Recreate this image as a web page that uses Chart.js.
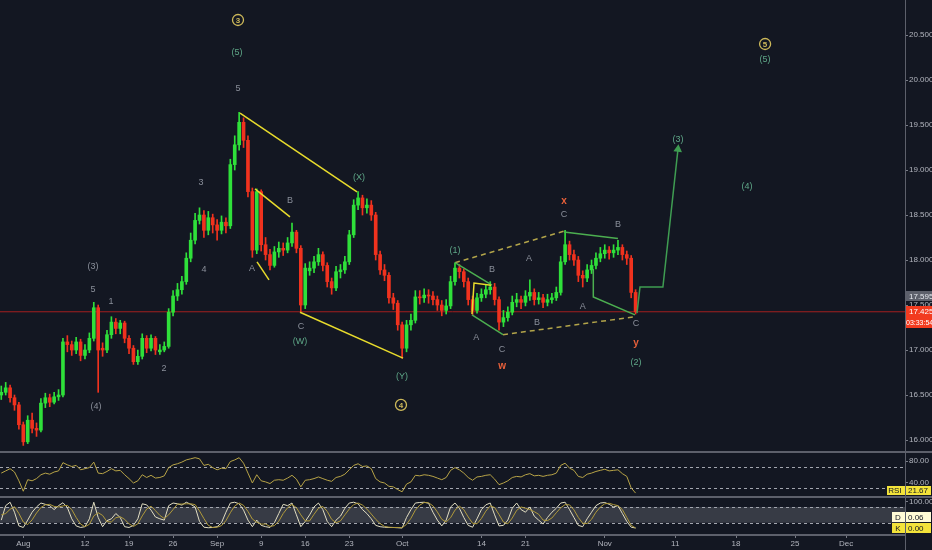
<!DOCTYPE html>
<html>
<head>
<meta charset="utf-8">
<title>XAG/USD Elliott wave chart</title>
<script src="https://cdn.jsdelivr.net/npm/chart.js@4.4.1/dist/chart.umd.min.js"></script>
<style>
html,body{margin:0;padding:0;background:#131722;overflow:hidden;}
#wrap{position:relative;width:932px;height:550px;background:#131722;}
#wrap canvas{position:absolute;left:0;}
.hsep{position:absolute;left:0;width:932px;height:2px;background:#5d606b;}
.vsep{position:absolute;left:905px;top:0;width:1px;height:550px;background:#5d606b;}
</style>
</head>
<body>
<div id="wrap">
  <canvas id="priceChart" width="932" height="451" style="top:0px"></canvas>
  <div class="hsep" style="top:451px"></div>
  <canvas id="rsiChart" width="932" height="43" style="top:453px"></canvas>
  <div class="hsep" style="top:496px"></div>
  <canvas id="stochChart" width="932" height="52" style="top:498px"></canvas>
  <div class="vsep"></div>
</div>
<script>
// ---------- DATA ----------
// time axis: trading-day index, day 0 = Aug 1; two bars per trading day
const startDay = -2.5;
const barStep = 0.5;

const opens = [
16.50,16.53,16.58,16.47,16.39,16.17,15.98,16.22,16.13,16.11,
16.41,16.47,16.42,16.48,16.50,17.09,17.06,17.00,17.09,16.94,
17.00,17.13,17.47,17.02,17.00,17.17,17.31,17.24,17.30,17.13,
17.02,16.87,16.93,17.13,17.02,17.13,16.98,17.00,17.04,17.42,
17.60,17.67,17.76,18.02,18.22,18.44,18.50,18.33,18.47,18.39,
18.33,18.42,18.38,19.06,19.28,19.53,19.33,18.76,18.11,18.76,
18.17,18.06,17.94,18.09,18.13,18.11,18.19,18.31,18.13,17.50,
17.88,17.91,17.98,18.06,17.94,17.76,17.69,17.87,17.89,17.98,
18.28,18.61,18.69,18.58,18.61,18.50,18.06,17.89,17.83,17.58,
17.52,17.28,17.02,17.28,17.33,17.59,17.58,17.61,17.60,17.56,
17.50,17.44,17.49,17.76,17.91,17.87,17.76,17.56,17.44,17.58,
17.62,17.67,17.70,17.56,17.31,17.36,17.42,17.53,17.56,17.53,
17.60,17.64,17.56,17.58,17.53,17.56,17.58,17.64,17.98,18.17,
18.06,18.00,17.83,17.80,17.89,17.94,18.02,18.07,18.11,18.08,
18.11,18.14,18.06,18.02,17.64];
const highs = [
16.60,16.64,16.61,16.50,16.42,16.20,16.27,16.30,16.19,16.46,
16.52,16.51,16.53,16.56,17.13,17.16,17.10,17.14,17.12,17.06,
17.19,17.53,17.50,17.08,17.22,17.37,17.35,17.33,17.32,17.16,
17.05,17.00,17.18,17.16,17.17,17.15,17.06,17.09,17.46,17.66,
17.74,17.82,18.08,18.30,18.52,18.58,18.55,18.54,18.51,18.45,
18.49,18.47,19.12,19.38,19.64,19.58,19.38,18.80,18.79,18.78,
18.25,18.12,18.15,18.20,18.19,18.25,18.41,18.33,18.16,17.96,
17.98,18.04,18.13,18.09,17.97,17.80,17.93,17.95,18.04,18.33,
18.67,18.76,18.72,18.68,18.66,18.53,18.10,17.95,17.86,17.63,
17.55,17.31,17.33,17.40,17.66,17.66,17.68,17.67,17.65,17.60,
17.55,17.56,17.82,17.97,17.95,17.90,17.80,17.60,17.63,17.68,
17.73,17.76,17.74,17.59,17.44,17.48,17.60,17.63,17.60,17.66,
17.78,17.68,17.64,17.62,17.62,17.63,17.70,18.04,18.33,18.21,
18.11,18.04,17.88,17.95,18.00,18.08,18.14,18.17,18.15,18.17,
18.22,18.17,18.10,18.05,17.67];
const lows = [
16.45,16.50,16.42,16.33,16.12,15.94,15.96,16.08,16.04,16.09,
16.36,16.37,16.40,16.44,16.48,16.98,16.94,16.96,16.88,16.90,
16.97,17.10,16.53,16.93,16.97,17.13,17.18,17.18,17.08,16.96,
16.84,16.84,16.90,16.97,16.99,16.95,16.95,16.98,17.02,17.38,
17.55,17.62,17.73,17.98,18.18,18.40,18.25,18.28,18.30,18.22,
18.29,18.30,18.35,19.00,19.22,19.25,18.70,18.03,18.07,18.10,
18.00,17.89,17.92,18.03,18.05,18.08,18.15,18.08,17.42,17.46,
17.83,17.86,17.94,17.88,17.70,17.62,17.66,17.80,17.85,17.95,
18.25,18.56,18.50,18.52,18.44,18.00,17.84,17.77,17.52,17.45,
17.22,16.91,16.98,17.22,17.30,17.51,17.53,17.52,17.50,17.44,
17.38,17.40,17.46,17.72,17.80,17.70,17.50,17.39,17.41,17.54,
17.58,17.62,17.50,17.22,17.26,17.32,17.39,17.48,17.46,17.49,
17.55,17.50,17.51,17.47,17.49,17.52,17.55,17.61,17.95,18.00,
17.94,17.76,17.70,17.76,17.85,17.90,17.98,18.02,18.01,18.03,
18.06,18.00,17.95,17.58,17.40];
const closes = [
16.53,16.58,16.47,16.39,16.17,15.98,16.22,16.13,16.11,16.41,
16.47,16.42,16.48,16.50,17.09,17.06,17.00,17.09,16.94,17.00,
17.13,17.47,17.00,17.00,17.17,17.31,17.24,17.30,17.13,17.02,
16.87,16.93,17.13,17.02,17.13,17.00,17.00,17.04,17.42,17.60,
17.67,17.76,18.02,18.22,18.44,18.50,18.33,18.47,18.39,18.33,
18.42,18.38,19.06,19.28,19.53,19.33,18.76,18.11,18.76,18.17,
18.06,17.94,18.09,18.13,18.11,18.19,18.31,18.13,17.50,17.91,
17.91,17.98,18.06,17.94,17.76,17.69,17.87,17.89,17.98,18.28,
18.61,18.69,18.58,18.61,18.50,18.06,17.89,17.83,17.58,17.52,
17.28,17.02,17.28,17.33,17.59,17.58,17.61,17.60,17.56,17.50,
17.44,17.49,17.76,17.91,17.87,17.76,17.56,17.44,17.58,17.62,
17.67,17.70,17.56,17.31,17.36,17.42,17.53,17.56,17.53,17.60,
17.64,17.56,17.58,17.53,17.56,17.58,17.64,17.98,18.17,18.06,
18.00,17.83,17.80,17.89,17.94,18.02,18.07,18.11,18.08,18.11,
18.14,18.06,18.02,17.64,17.425];

const rsiValues = [
58,62,66,60,44,25,46,44,48,55,
58,56,60,62,77,73,70,72,64,66,
68,78,58,57,61,66,62,63,55,48,
40,44,55,50,54,49,50,53,68,73,
75,78,82,84,86,84,72,74,68,64,
67,66,79,82,86,76,58,40,55,44,
42,39,45,46,45,49,54,47,33,45,
46,48,51,48,45,43,50,52,56,64,
72,75,70,71,66,48,42,40,34,33,
28,24,38,42,54,53,55,54,52,49,
46,50,63,68,64,58,50,45,51,52,
54,55,47,37,40,44,50,52,51,55,
57,53,54,52,54,55,58,72,76,67,
63,52,50,56,58,61,63,65,62,63,
64,57,52,31,21.67];
const stochK = [
30,85,98,60,8,2,30,60,80,95,
90,85,70,85,96,78,35,8,2,5,
35,98,40,5,28,35,55,40,5,2,
10,35,92,88,68,42,35,30,85,95,
92,87,98,90,80,25,3,1,2,5,
20,60,95,98,92,68,30,5,30,10,
5,2,20,55,90,85,95,50,5,25,
50,80,95,70,25,5,30,45,75,95,
98,92,70,55,35,10,5,3,2,2,
1,0,40,70,95,97,98,94,60,30,
8,30,80,95,75,40,10,3,35,70,
88,95,50,8,10,30,75,95,70,60,
80,45,30,15,40,60,75,95,98,70,
40,10,5,35,60,85,95,97,90,80,
85,55,25,3,0];
const stochD = [
50,55,71,81,55,23,13,31,57,78,
88,90,82,80,84,86,70,40,15,5,
14,46,58,48,24,23,39,43,33,16,
6,16,46,72,83,66,48,36,50,70,
91,91,92,92,89,65,36,10,2,3,
9,28,58,84,95,86,63,34,22,15,
15,6,9,26,55,77,90,77,50,27,
27,52,75,82,63,33,20,27,50,72,
89,95,87,72,53,33,17,6,3,2,
2,1,14,37,68,87,97,96,84,61,
33,23,39,68,83,70,42,18,16,36,
64,84,78,51,23,16,38,67,80,75,
70,62,52,30,28,38,58,77,89,88,
69,40,18,17,33,60,80,92,94,89,
85,70,40,10,0.06];

// axis ticks
const priceTicks = [16.0,16.5,17.0,17.5,18.0,18.5,19.0,19.5,20.0,20.5];
const rsiTicks = [40,80];
const stochTicks = [0,50,100];
const rsiBands = [70,30];
const stochBands = [80,20];
const xTickDays = [0,7,12,17,22,27,32,37,43,52,57,66,74,80.9,87.6,93.4];
const xTickLabels = ['Aug','12','19','26','Sep','9','16','23','Oct','14','21','Nov','11','18','25','Dec'];

// visible ranges
const viewDays = [-2.645, 100.08];
const priceRange = [15.878, 20.889];
const rsiRange = [16.36, 94.55];
const stochRange = [-26.6, 114.07];

// price badges
const refPrice = 17.595;
const countdown = '03:33:54';

// wave drawings: [day, price] points
const yellowWaves = [
  [[24.6,19.633],[37.88,18.756]],
  [[31.41,17.42],[43.1,16.91]],
  [[26.3,18.79],[30.27,18.48]],
  [[26.53,17.98],[27.89,17.78]],
  [[50.93,17.40],[51.16,17.744],[53.09,17.72]]
];
const greenWaves = [
  [[49.0,17.97],[53.2,17.72]],
  [[50.93,17.39],[54.45,17.17]],
  [[61.37,18.31],[67.5,18.24]],
  [[64.7,17.90],[64.7,17.59],[69.43,17.39]]
];
const dashedWaves = [
  [[49.0,17.97],[61.37,18.32]],
  [[54.45,17.17],[69.43,17.37]]
];
const projection = [[69.66,17.41],[70.0,17.70],[72.6,17.70],[74.31,19.23]];

// wave labels: [text, day, price]
const greyLabels = [
  ['5',24.37,19.90],['3',20.17,18.856],['4',20.51,17.90],['(3)',7.91,17.93],['5',7.91,17.667],
  ['1',9.96,17.54],['2',15.97,16.80],['(4)',8.25,16.367],['B',30.27,18.656],['A',25.96,17.91],
  ['C',31.52,17.256],['B',53.2,17.889],['A',51.4,17.144],['C',54.34,17.01],['A',57.4,18.02],
  ['B',58.3,17.31],['C',61.37,18.50],['A',63.5,17.478],['B',67.5,18.39],['C',69.55,17.29]
];
const greenLabels = [
  ['(5)',24.25,20.31],['(X)',38.1,18.92],['(W)',31.4,17.089],['(Y)',42.98,16.71],['(1)',49.0,18.11],
  ['(2)',69.55,16.856],['(3)',74.31,19.344],['(4)',82.14,18.82],['(5)',84.2,20.233]
];
const redLabels = [['x',61.37,18.656],['w',54.34,16.82],['y',69.55,17.078]];
const circleLabels = [['3',24.37,20.667],['4',42.87,16.39],['5',84.2,20.40]];

// ---------- STYLE ----------
const FONT = '"Liberation Sans", Arial, sans-serif';
const UP = '#2fe03a', DOWN = '#f0321e';
const AXIS_TXT = '#b2b5be';
const C_YELLOW = '#e8dc2c', C_GREEN = '#4caf50', C_DASH = '#b3a54a', C_PROJ = '#3f9d52';
const C_GREYLBL = '#8a8f9a', C_GREENLBL = '#5fa888', C_REDLBL = '#e8603a', C_CIRCLE = '#cdb95a';

const days = closes.map((_, i) => startDay + i * barStep);
const lastClose = closes[closes.length - 1];
const candleColors = closes.map((c, i) => c >= opens[i] ? UP : DOWN);
const toPts = arr => arr.map(p => ({x: p[0], y: p[1]}));

function rightAxis(range, ticksArr, decimals) {
  return {
    position: 'right', min: range[0], max: range[1], beginAtZero: false,
    afterBuildTicks: s => { s.ticks = ticksArr.map(v => ({value: v})); },
    afterFit: s => { s.width = 27; s.paddingTop = 0; s.paddingBottom = 0; },
    grid: {drawOnChartArea: false, drawTicks: true, tickLength: 3, color: '#787b86'},
    border: {display: false},
    ticks: {color: AXIS_TXT, font: {family: FONT, size: 8}, padding: 1,
            callback: v => Number(v).toFixed(decimals)}
  };
}
function hiddenX() {
  return {type: 'linear', min: viewDays[0], max: viewDays[1], offset: false, display: false,
          grid: {offset: false}};
}
function badge(ctx, x0, x1, yc, h, bg, fg, parts, size) {
  ctx.fillStyle = bg;
  ctx.fillRect(x0, Math.round(yc - h / 2), x1 - x0, h);
  ctx.fillStyle = fg;
  ctx.font = (size || 8) + 'px ' + FONT;
  ctx.textBaseline = 'middle';
  parts.forEach(([t, tx, al]) => { ctx.textAlign = al || 'left'; ctx.fillText(t, tx, yc + 0.5); });
}
function guideLines(chart, values, fill) {
  const {ctx, chartArea: a, scales: {y}} = chart;
  ctx.save();
  if (fill) {
    const y1 = y.getPixelForValue(values[0]), y2 = y.getPixelForValue(values[1]);
    ctx.fillStyle = 'rgba(130,133,144,0.33)';
    ctx.fillRect(a.left, y1, a.right - a.left, y2 - y1);
  }
  ctx.strokeStyle = '#a3a6af'; ctx.lineWidth = 1; ctx.setLineDash([3, 3]);
  values.forEach(v => {
    const yy = Math.round(y.getPixelForValue(v)) + 0.5;
    ctx.beginPath(); ctx.moveTo(a.left, yy); ctx.lineTo(a.right, yy); ctx.stroke();
  });
  ctx.restore();
}
const baseOptions = () => ({
  responsive: false, maintainAspectRatio: false, animation: false, devicePixelRatio: 1, events: [],
  layout: {padding: 0, autoPadding: false},
  plugins: {legend: {display: false}, tooltip: {enabled: false}}
});

// ---------- PRICE CHART ----------
const waveSets = [];
yellowWaves.forEach(w => waveSets.push({type: 'line', data: toPts(w), borderColor: C_YELLOW, borderWidth: 1.5, pointRadius: 0, order: 1}));
greenWaves.forEach(w => waveSets.push({type: 'line', data: toPts(w), borderColor: C_GREEN, borderWidth: 1.5, pointRadius: 0, order: 1}));
dashedWaves.forEach(w => waveSets.push({type: 'line', data: toPts(w), borderColor: C_DASH, borderWidth: 1.5, borderDash: [5, 4], pointRadius: 0, order: 1}));
waveSets.push({type: 'line', data: toPts(projection), borderColor: C_PROJ, borderWidth: 1.5,
  pointRadius: projection.map((_, i) => i === projection.length - 1 ? 3.5 : 0),
  pointStyle: 'triangle', rotation: 6, pointBackgroundColor: C_PROJ, pointBorderColor: C_PROJ, order: 1});

const annotPlugin = {
  id: 'annot',
  afterDatasetsDraw(chart) {
    const {ctx, scales: {x, y}} = chart;
    ctx.save();
    ctx.textAlign = 'center'; ctx.textBaseline = 'middle';
    ctx.font = '9px ' + FONT;
    const put = (list, col) => list.forEach(([t, d, p]) => {
      ctx.fillStyle = col; ctx.fillText(t, x.getPixelForValue(d), y.getPixelForValue(p));
    });
    put(greyLabels, C_GREYLBL);
    put(greenLabels, C_GREENLBL);
    ctx.font = 'bold 10px ' + FONT;
    put(redLabels, C_REDLBL);
    circleLabels.forEach(([t, d, p]) => {
      const cx = x.getPixelForValue(d), cy = y.getPixelForValue(p);
      ctx.beginPath(); ctx.arc(cx, cy, 5.5, 0, Math.PI * 2);
      ctx.strokeStyle = C_CIRCLE; ctx.lineWidth = 1.3; ctx.stroke();
      ctx.fillStyle = C_CIRCLE; ctx.font = 'bold 8px ' + FONT;
      ctx.fillText(t, cx, cy + 0.5);
    });
    ctx.restore();
  },
  afterDraw(chart) {
    const {ctx, scales: {y}} = chart;
    ctx.save();
    const yr = y.getPixelForValue(refPrice);
    badge(ctx, 905, 932, yr, 10, '#5d606b', '#e6e8ee', [[refPrice.toFixed(3), 909]]);
    const yl = y.getPixelForValue(lastClose);
    badge(ctx, 905, 932, yl, 11, '#f23b1f', '#ffffff', [[lastClose.toFixed(3), 909]]);
    badge(ctx, 905, 932, yl + 11, 11, '#f23b1f', '#ffffff', [[countdown, 906]], 7);
    ctx.restore();
  }
};

new Chart(document.getElementById('priceChart'), {
  type: 'bar',
  data: {
    datasets: [
      {type: 'line', data: [{x: viewDays[0], y: lastClose}, {x: viewDays[1], y: lastClose}],
       borderColor: '#a31f1f', borderWidth: 1, pointRadius: 0, order: 10},
      {type: 'bar', data: days.map((d, i) => ({x: d, y: [lows[i], highs[i]]})),
       backgroundColor: candleColors, barThickness: 1, grouped: false, minBarLength: 1, order: 6},
      {type: 'bar', data: days.map((d, i) => ({x: d, y: [opens[i], closes[i]]})),
       backgroundColor: candleColors, barThickness: 3, grouped: false, minBarLength: 1, order: 5},
      ...waveSets
    ]
  },
  options: Object.assign(baseOptions(), {
    scales: {x: hiddenX(), y: rightAxis(priceRange, priceTicks, 3)}
  }),
  plugins: [annotPlugin]
});

// ---------- RSI ----------
new Chart(document.getElementById('rsiChart'), {
  type: 'line',
  data: {datasets: [{data: days.map((d, i) => ({x: d, y: rsiValues[i]})),
    borderColor: '#b8a447', borderWidth: 1, pointRadius: 0}]},
  options: Object.assign(baseOptions(), {
    scales: {x: hiddenX(), y: rightAxis(rsiRange, rsiTicks, 2)}
  }),
  plugins: [{
    id: 'rsiGuides',
    beforeDatasetsDraw(chart) { guideLines(chart, rsiBands, false); },
    afterDraw(chart) {
      const {ctx, scales: {y}} = chart;
      const v = rsiValues[rsiValues.length - 1];
      const yc = Math.min(y.getPixelForValue(v), chart.height - 5.5);
      ctx.save();
      badge(ctx, 887, 931, yc, 9, '#f3e33a', '#131722', [['RSI', 895, 'center'], [v.toFixed(2), 908]]);
      ctx.restore();
    }
  }]
});

// ---------- STOCH ----------
new Chart(document.getElementById('stochChart'), {
  type: 'line',
  data: {datasets: [
    {data: days.map((d, i) => ({x: d, y: stochD[i]})), borderColor: '#b09a3a', borderWidth: 1, pointRadius: 0},
    {data: days.map((d, i) => ({x: d, y: stochK[i]})), borderColor: '#e2dec2', borderWidth: 1, pointRadius: 0}
  ]},
  options: Object.assign(baseOptions(), {
    scales: {
      x: {type: 'linear', min: viewDays[0], max: viewDays[1], offset: false, position: 'bottom',
          afterBuildTicks: s => { s.ticks = xTickDays.map(v => ({value: v})); },
          afterFit: s => { s.height = 15; s.paddingLeft = 0; s.paddingRight = 0; },
          grid: {drawOnChartArea: false, drawTicks: true, tickLength: 3, color: '#787b86', offset: false},
          border: {display: true, color: '#5d606b', width: 2},
          ticks: {autoSkip: false, maxRotation: 0, minRotation: 0, padding: 1, color: AXIS_TXT,
                  font: {family: FONT, size: 8}, callback: (v, i) => xTickLabels[i]}},
      y: rightAxis(stochRange, stochTicks, 2)
    }
  }),
  plugins: [{
    id: 'stochGuides',
    beforeDatasetsDraw(chart) { guideLines(chart, stochBands, true); },
    afterDraw(chart) {
      const {ctx, scales: {y}} = chart;
      const k = stochK[stochK.length - 1], d = stochD[stochD.length - 1];
      const yk = y.getPixelForValue(k);
      ctx.save();
      badge(ctx, 892, 931, yk - 11, 10, '#fffbd6', '#131722', [['D', 898, 'center'], [d.toFixed(2), 908]]);
      badge(ctx, 892, 931, yk, 10, '#f3e33a', '#131722', [['K', 898, 'center'], [k.toFixed(2), 908]]);
      ctx.restore();
    }
  }]
});
</script>
</body>
</html>
